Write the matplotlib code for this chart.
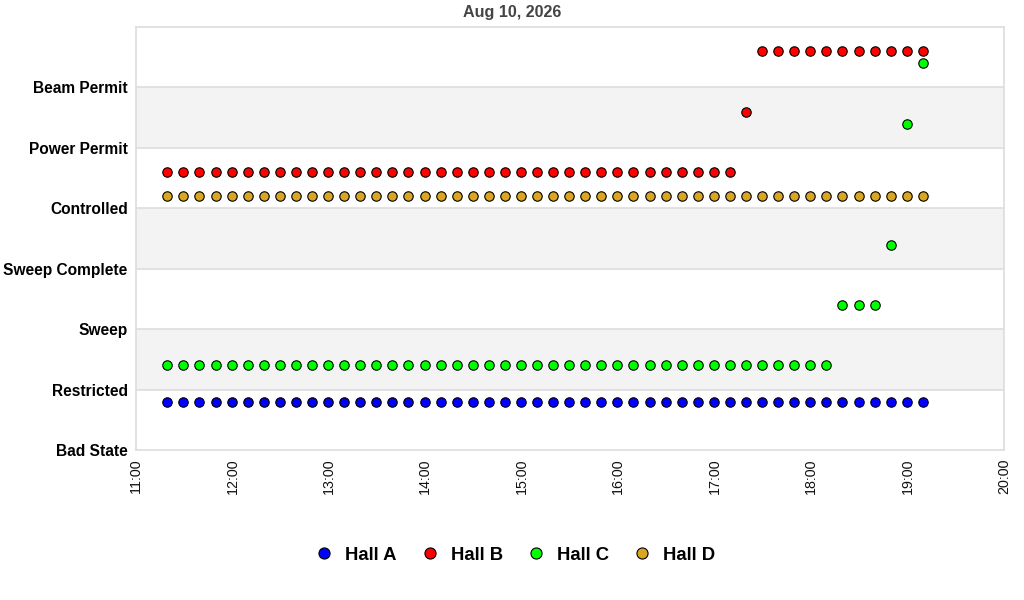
import pandas as pd
import matplotlib.pyplot as plt
import matplotlib.dates as mdates
from matplotlib.lines import Line2D

plt.rcParams['font.family'] = ['Liberation Sans', 'DejaVu Sans']

# State levels on the y axis (bottom to top)
states = ["Bad State", "Restricted", "Sweep", "Sweep Complete",
          "Controlled", "Power Permit", "Beam Permit"]

# Sample times (10 minute readings)
times = ["11:19", "11:29", "11:39", "11:49", "11:59", "12:09", "12:19", "12:29",
         "12:39", "12:49", "12:59", "13:09", "13:19", "13:29", "13:39", "13:49",
         "13:59", "14:09", "14:19", "14:29", "14:39", "14:49", "14:59", "15:09",
         "15:19", "15:29", "15:39", "15:49", "15:59", "16:09", "16:19", "16:29",
         "16:39", "16:49", "16:59", "17:09", "17:19", "17:29", "17:39", "17:49",
         "17:59", "18:09", "18:19", "18:29", "18:39", "18:49", "18:59", "19:09"]

hall_a = ["Bad State"] * 48
hall_b = ["Controlled"] * 36 + ["Power Permit"] + ["Beam Permit"] * 11
hall_c = (["Restricted"] * 42 + ["Sweep"] * 3 + ["Sweep Complete"]
          + ["Power Permit"] + ["Beam Permit"])
hall_d = ["Controlled"] * 48

halls = ["Hall A", "Hall B", "Hall C", "Hall D"]
hall_states = [hall_a, hall_b, hall_c, hall_d]

# styling
colors = ["#0000ff", "#ff0000", "#00ff00", "#daa520"]
offsets = [0.8, 0.6, 0.4, 0.2]

t = pd.to_datetime(["2026-08-10 " + s for s in times]) + pd.Timedelta(seconds=30)

fig = plt.figure(figsize=(10.24, 6), dpi=100)
ax = fig.add_axes([136 / 1024, 150 / 600, 868 / 1024, 423 / 600])

for lo in (1, 3, 5):
    ax.axhspan(lo, lo + 1, color="#f3f3f3", zorder=0, lw=0)
for y in range(1, 7):
    ax.axhline(y, color="#dddddd", lw=1.2, zorder=1)

for name, st, col, off in zip(halls, hall_states, colors, offsets):
    yv = [states.index(s) + off for s in st]
    ax.scatter(t, yv, s=46, color=col, edgecolors="black", linewidths=0.8,
               zorder=3, label=name)

ax.set_ylim(0, 7)
ax.set_yticks(range(len(states)))
ax.set_yticklabels(states, fontsize=11.2, fontweight="bold", color="black")
ax.set_xlim(pd.Timestamp("2026-08-10 11:00"), pd.Timestamp("2026-08-10 20:00"))
ax.xaxis.set_major_locator(mdates.HourLocator())
ax.xaxis.set_major_formatter(mdates.DateFormatter("%H:%M"))
plt.setp(ax.get_xticklabels(), rotation=90, fontsize=10.3, color="#111111")
ax.tick_params(axis="both", length=0, pad=6)

for sp in ax.spines.values():
    sp.set_color("#dddddd")
    sp.set_linewidth(1.2)

fig.text(0.5, 1 - 12 / 600, "Aug 10, 2026", ha="center", va="center",
         fontsize=11.6, fontweight="bold", color="#444444")

handles = [Line2D([], [], ls="", marker="o", markersize=8, markerfacecolor=c,
                  markeredgecolor="black", markeredgewidth=0.8) for c in colors]
fig.legend(handles, halls, loc="center", bbox_to_anchor=(0.503, 1 - 555 / 600),
           ncol=4, frameon=False, prop={"size": 13.3, "weight": "bold"},
           handletextpad=0.65, columnspacing=1.27, handlelength=1.0)

fig.savefig("out.png", dpi=100)
